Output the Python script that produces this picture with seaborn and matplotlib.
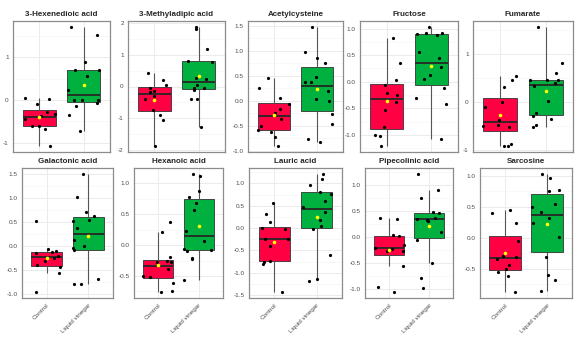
import numpy as np
import pandas as pd
import matplotlib
matplotlib.use("Agg")
import matplotlib.pyplot as plt
import seaborn as sns

sns.set_style("white")
plt.rcParams['font.family'] = ['Liberation Sans', 'DejaVu Sans']

groups = ["Control", "Liquid vinegar"]
titles = ["3-Hexenedioic acid", "3-Methyladipic acid", "Acetylcysteine", "Fructose", "Fumarate",
          "Galactonic acid", "Hexanoic acid", "Lauric acid", "Pipecolinic acid", "Sarcosine"]

hex_ctrl = [0.05, 0.02, -0.09, -0.28, -0.33, -0.38, -0.40, -0.45, -0.60, -0.60, -0.67, -1.08]
hex_vin = [-0.72, -0.36, -0.14, -0.07, 0.0, 0.01, 0.01, 0.24, 0.56, 0.69, 0.71, 0.90, 1.52, 1.71]
mad_ctrl = [-1.87, -1.06, -0.88, -0.74, -0.38, -0.30, -0.18, -0.13, -0.06, 0.06, 0.21, 0.41]
mad_vin = [-1.26, -0.40, -0.38, -0.10, -0.06, -0.06, 0.05, 0.23, 0.28, 0.78, 0.81, 1.18, 1.80, 1.87]
acc_ctrl = [-0.91, -0.73, -0.62, -0.59, -0.50, -0.36, -0.24, -0.17, -0.07, 0.05, 0.25, 0.46]
acc_vin = [-0.83, -0.77, -0.46, -0.27, -0.01, 0.03, 0.20, 0.38, 0.38, 0.48, 0.75, 0.86, 0.97, 1.48]
fru_ctrl = [-1.21, -1.02, -1.01, -0.85, -0.54, -0.39, -0.25, -0.22, -0.06, 0.03, 0.35, 0.82]
fru_vin = [-1.08, -0.42, -0.31, -0.11, 0.06, 0.13, 0.28, 0.44, 0.55, 0.88, 0.90, 0.91, 0.92, 1.03]
fum_ctrl = [-0.92, -0.91, -0.87, -0.52, -0.50, -0.48, -0.37, -0.11, 0.01, 0.32, 0.46, 0.54]
fum_vin = [-0.52, -0.47, -0.36, -0.29, -0.22, 0.02, 0.33, 0.40, 0.46, 0.47, 0.47, 0.61, 0.81, 1.57]
gal_ctrl = [-0.96, -0.56, -0.43, -0.40, -0.31, -0.24, -0.20, -0.15, -0.13, -0.11, -0.06, 0.52]
gal_vin = [-0.80, -0.79, -0.68, -0.08, -0.04, 0.0, 0.13, 0.38, 0.52, 0.55, 0.64, 0.72, 1.02, 1.51]
hxa_ctrl = [-0.76, -0.75, -0.62, -0.51, -0.50, -0.39, -0.28, -0.27, -0.25, -0.20, 0.21, 0.38]
hxa_vin = [-0.56, -0.22, -0.21, -0.09, -0.08, -0.07, 0.07, 0.22, 0.57, 0.68, 0.77, 0.87, 1.11, 1.15]
lau_ctrl = [-1.43, -0.81, -0.75, -0.74, -0.40, -0.25, -0.24, -0.01, 0.0, 0.13, 0.31, 0.57]
lau_vin = [-1.19, -1.14, -0.60, -0.01, 0.05, 0.19, 0.37, 0.48, 0.60, 0.76, 0.81, 0.97, 1.10, 1.21]
pip_ctrl = [-1.05, -0.95, -0.55, -0.27, -0.26, -0.22, -0.20, -0.15, 0.02, 0.04, 0.35, 0.37]
pip_vin = [-0.97, -0.77, -0.49, -0.04, 0.11, 0.32, 0.33, 0.36, 0.37, 0.46, 0.48, 0.75, 0.92, 1.22]
sar_ctrl = [-0.88, -0.62, -0.56, -0.51, -0.45, -0.35, -0.31, -0.30, -0.05, 0.23, 0.40, 0.44]
sar_vin = [-0.87, -0.68, -0.61, -0.31, 0.01, 0.24, 0.31, 0.42, 0.49, 0.54, 0.76, 0.77, 0.97, 1.03]

control_sets = [hex_ctrl, mad_ctrl, acc_ctrl, fru_ctrl, fum_ctrl, gal_ctrl, hxa_ctrl, lau_ctrl, pip_ctrl, sar_ctrl]
vinegar_sets = [hex_vin, mad_vin, acc_vin, fru_vin, fum_vin, gal_vin, hxa_vin, lau_vin, pip_vin, sar_vin]

yticks = [
    [-1, 0, 1],
    [-2, -1, 0, 1, 2],
    [-1.0, -0.5, 0.0, 0.5, 1.0, 1.5],
    [-1.0, -0.5, 0.0, 0.5, 1.0],
    [-1, 0, 1],
    [-1.0, -0.5, 0.0, 0.5, 1.0, 1.5],
    [-0.5, 0.0, 0.5, 1.0],
    [-1.5, -1.0, -0.5, 0.0, 0.5, 1.0],
    [-1.0, -0.5, 0.0, 0.5, 1.0],
    [-0.5, 0.0, 0.5, 1.0],
]

RED = "#FF0142"
GREEN = "#00B13F"

W, H = 581, 337
rects_px = [
    (13, 21, 110, 152), (128, 21, 225, 152), (248, 21, 343, 152), (360, 21, 458, 152), (473, 21, 573, 152),
    (22, 168, 113, 298), (134, 168, 223, 298), (249, 168, 342, 298), (365, 168, 453, 298), (480, 168, 572, 298),
]

fig = plt.figure(figsize=(W / 100, H / 100), dpi=100)
np.random.seed(7)

for i in range(10):
    l, t, r, b = rects_px[i]
    ax = fig.add_axes([l / W, 1 - b / H, (r - l) / W, (b - t) / H])
    c, v = control_sets[i], vinegar_sets[i]
    df = pd.DataFrame({"group": [groups[0]] * len(c) + [groups[1]] * len(v),
                       "value": c + v})
    sns.boxplot(data=df, x="group", y="value", hue="group", order=groups, hue_order=groups,
                palette=[RED, GREEN], saturation=1, width=0.75, dodge=False,
                showfliers=False, showcaps=False,
                linecolor="#333333", linewidth=0.6,
                medianprops=dict(linewidth=1.3, color="#262626"),
                whiskerprops=dict(linewidth=0.8, color="#555555"),
                legend=False, ax=ax)
    sns.stripplot(data=df, x="group", y="value", order=groups, color="black", size=2.3,
                  jitter=0.38, linewidth=0, ax=ax, zorder=3)
    sns.pointplot(data=df, x="group", y="value", order=groups, estimator="mean", errorbar=None,
                  color="#FFFF00", linestyle="none", marker="o", markersize=2.6,
                  markeredgewidth=0, ax=ax, zorder=4)

    allv = np.array(c + v)
    lo, hi = allv.min(), allv.max()
    pad = 0.05 * (hi - lo)
    ax.set_ylim(lo - pad, hi + pad)
    ax.set_xlim(-0.6, 1.6)

    tk = yticks[i]
    ints = all(float(x).is_integer() for x in tk)
    labels = [("%d" % x) if ints else ("%.1f" % x) for x in tk]
    ax.set_yticks(tk)
    ax.set_yticklabels(labels)
    step = tk[1] - tk[0]
    minors = [tk[0] - step / 2] + [x + step / 2 for x in tk]
    minors = [m for m in minors if lo - pad <= m <= hi + pad]
    ax.set_yticks(minors, minor=True)
    ax.tick_params(axis="y", which="minor", length=0)

    ax.set_xticks([0, 1])
    if i >= 5:
        ax.set_xticklabels(groups, rotation=45, ha="right", rotation_mode="anchor")
    else:
        ax.set_xticklabels([])
    ax.grid(True, which="major", color="#EBEBEB", linewidth=0.7)
    ax.grid(True, which="minor", axis="y", color="#F5F5F5", linewidth=0.5)
    ax.set_axisbelow(True)

    ax.tick_params(axis="both", which="major", length=2, width=0.5, color="#555555",
                   labelsize=4.6, labelcolor="#4D4D4D", pad=1)
    for s in ax.spines.values():
        s.set_color("#8C8C8C")
        s.set_linewidth(0.9)
    ax.set_xlabel("")
    ax.set_ylabel("")
    ax.set_title(titles[i], fontsize=5.8, fontweight="bold", pad=3.5)

fig.savefig("out.png", dpi=100)
